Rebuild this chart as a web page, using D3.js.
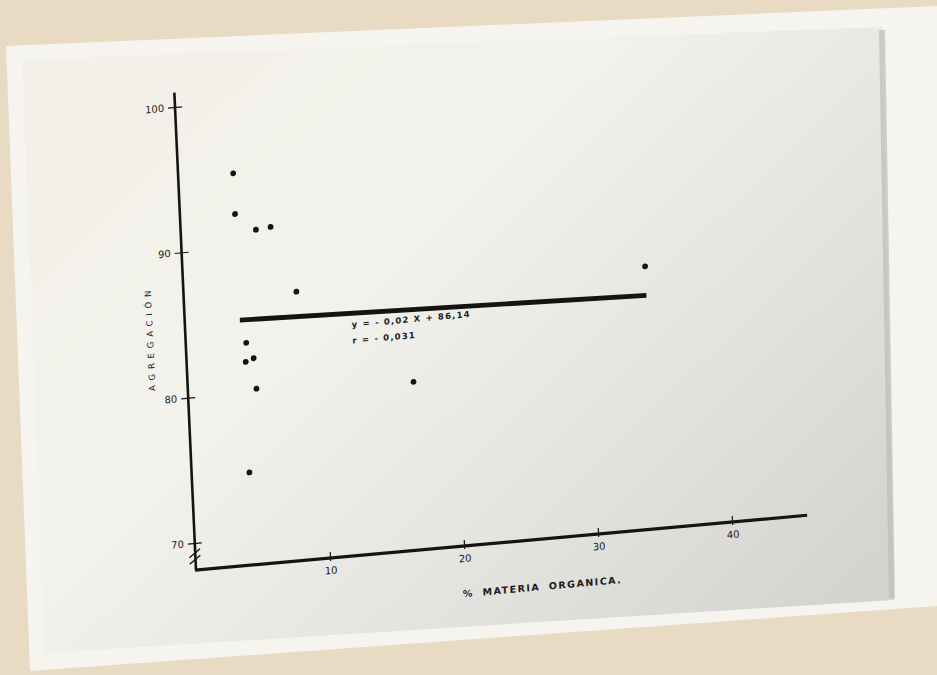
<!DOCTYPE html>
<html>
<head>
<meta charset="utf-8">
<script src="https://cdn.jsdelivr.net/npm/d3@7"></script>
<style>
html, body { margin: 0; padding: 0; background: #e8dac3; overflow: hidden; }
text { font-family: "DejaVu Sans", sans-serif; fill: #1b1b1b; }
</style>
</head>
<body>
<script>
// values
var materiaOrganica = [4.1, 4.1, 5.6, 6.7, 8.4, 4.5, 4.4, 5.0, 5.1, 4.3, 16.8, 34.4];
var agregacion = [95.1, 92.3, 91.1, 91.2, 86.6, 83.4, 82.1, 82.3, 80.2, 74.5, 79.7, 86.2];
var xTicks = [10, 20, 30, 40];
var yTicks = [70, 80, 90, 100];
var regX = [4.1, 34.4];
var regY = [85.0, 84.2];
var ecuacion = ["y = - 0,02 X + 86,14", "r = - 0,031"];

var svgWidth = 937;
var svgHeight = 675;

var svg = d3.select("body").append("svg")
    .attr("width", svgWidth)
    .attr("height", svgHeight);

// photo background: tan table, white print border, greyish print
var defs = svg.append("defs");
var grad = defs.append("linearGradient")
    .attr("id", "paper")
    .attr("x1", 0.05).attr("y1", 0.15)
    .attr("x2", 1).attr("y2", 0.85);
grad.append("stop").attr("offset", 0).attr("stop-color", "#f2f0e8");
grad.append("stop").attr("offset", 0.35).attr("stop-color", "#f3f2ed");
grad.append("stop").attr("offset", 0.7).attr("stop-color", "#e2e2df");
grad.append("stop").attr("offset", 1).attr("stop-color", "#d3d3d0");

svg.append("rect")
    .attr("width", svgWidth)
    .attr("height", svgHeight)
    .attr("fill", "#e8dac3");

svg.append("polygon")
    .attr("points", "6,46 937,6 937,606 30,671")
    .attr("fill", "#f6f4ee");

svg.append("polygon")
    .attr("points", "22,60 882,27 894,600 45,653")
    .attr("fill", "url(#paper)");

svg.append("line")
    .attr("x1", 882).attr("y1", 30)
    .attr("x2", 892).attr("y2", 598)
    .attr("stroke", "#bdbdb9")
    .attr("stroke-width", 6)
    .attr("opacity", 0.7);

// chart is drawn flat around its axis corner, then tilted like the photographed print
var yBase = 68.14;
var xScale = d3.scaleLinear().domain([0, 40]).range([0, 538.2]);
var yScale = d3.scaleLinear().domain([70, 100]).range([-(70 - yBase) * 14.545, -(100 - yBase) * 14.545]);

var chartGroup = svg.append("g")
    .attr("transform", "matrix(0.996,-0.0892,0.0453,0.999,196,570)");

var ink = "#141414";

// axes lines
chartGroup.append("line")
    .attr("x1", xScale(0)).attr("y1", yScale(yBase))
    .attr("x2", xScale(0)).attr("y2", yScale(101))
    .attr("stroke", ink).attr("stroke-width", 2.6);

chartGroup.append("line")
    .attr("x1", xScale(0) - 1).attr("y1", yScale(yBase))
    .attr("x2", xScale(45.6)).attr("y2", yScale(yBase))
    .attr("stroke", ink).attr("stroke-width", 3.2);

var leftAxis = d3.axisLeft(yScale).tickValues(yTicks).tickSize(7).tickPadding(4);
var yAxisG = chartGroup.append("g")
    .attr("transform", `translate(${xScale(0)}, 0)`)
    .call(leftAxis);
yAxisG.select(".domain").remove();
yAxisG.selectAll(".tick line").attr("x1", 7).attr("stroke", ink).attr("stroke-width", 1.2);
yAxisG.selectAll(".tick text").attr("font-size", 10).attr("font-family", "DejaVu Sans").attr("fill", ink);

var bottomAxis = d3.axisBottom(xScale).tickValues(xTicks).tickSize(3).tickPadding(6);
var xAxisG = chartGroup.append("g")
    .attr("transform", `translate(0, ${yScale(yBase)})`)
    .call(bottomAxis);
xAxisG.select(".domain").remove();
xAxisG.selectAll(".tick line").attr("y1", -6).attr("stroke", ink).attr("stroke-width", 1.2);
xAxisG.selectAll(".tick text").attr("font-size", 10).attr("font-family", "DejaVu Sans").attr("fill", ink);

// axis break marks
[69.3, 68.85].forEach(function (v) {
    chartGroup.append("line")
        .attr("x1", xScale(0) - 6).attr("y1", yScale(v) + 4)
        .attr("x2", xScale(0) + 5).attr("y2", yScale(v) - 4)
        .attr("stroke", ink).attr("stroke-width", 1.4);
});

// regression line
var regData = regX.map(function (x, i) { return [x, regY[i]]; });
var line = d3.line().x(d => xScale(d[0])).y(d => yScale(d[1]));
chartGroup.append("path")
    .datum(regData)
    .attr("d", line)
    .attr("fill", "none")
    .attr("stroke", ink)
    .attr("stroke-width", 4.8);

// points
var puntos = materiaOrganica.map(function (x, i) { return { x: x, y: agregacion[i] }; });
chartGroup.selectAll("circle")
    .data(puntos)
    .enter()
    .append("circle")
    .attr("cx", d => xScale(d.x))
    .attr("cy", d => yScale(d.y))
    .attr("r", 2.9)
    .attr("fill", ink);

// equation text
chartGroup.selectAll(".eq")
    .data(ecuacion)
    .enter()
    .append("text")
    .attr("class", "eq")
    .attr("x", xScale(12.4))
    .attr("y", (d, i) => yScale(83.8) + i * 16)
    .attr("font-size", 8.5)
    .attr("font-weight", "bold")
    .attr("letter-spacing", 1.2)
    .text(d => d);

// axis titles
chartGroup.append("text")
    .attr("transform", `translate(${xScale(0) - 32.5}, ${yScale(84.3)}) rotate(-90)`)
    .attr("text-anchor", "middle")
    .attr("font-size", 8.5)
    .attr("letter-spacing", 4.8)
    .text("AGREGACIÓN");

chartGroup.append("text")
    .attr("x", xScale(25.7))
    .attr("y", yScale(yBase) + 51)
    .attr("text-anchor", "middle")
    .attr("font-size", 9.5)
    .attr("font-weight", "bold")
    .attr("letter-spacing", 1.5)
    .attr("word-spacing", 4)
    .text("% MATERIA ORGANICA.");
</script>
</body>
</html>
